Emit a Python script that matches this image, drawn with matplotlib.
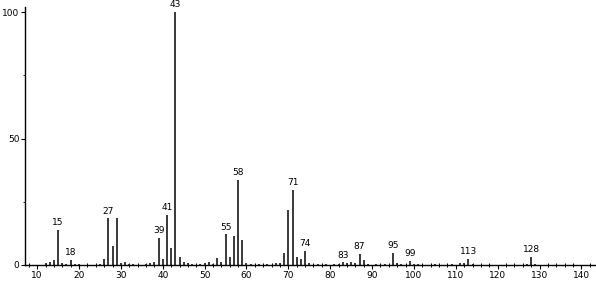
import matplotlib
matplotlib.use('Agg')
import matplotlib.pyplot as plt
from matplotlib.ticker import MultipleLocator

# m/z values and relative abundances
mz = [12, 13, 14, 15, 16, 17, 18, 19, 20, 25, 26, 27, 28, 29, 30, 31, 32, 33,
      36, 37, 38, 39, 40, 41, 42, 43, 44, 45, 46, 47, 49, 50, 51, 52, 53, 54,
      55, 56, 57, 58, 59, 60, 61, 63, 65, 67, 68, 69, 70, 71, 72, 73, 74, 75,
      77, 79, 81, 82, 83, 84, 85, 86, 87, 88, 89, 91, 93, 95, 96, 97, 99, 100,
      101, 105, 109, 111, 112, 113, 114, 127, 128, 129]
abundance = [0.6, 1.0, 2.0, 14.0, 0.8, 0.5, 2.0, 0.4, 0.4, 0.4, 2.3, 18.4, 7.5,
             18.4, 0.8, 1.0, 0.5, 0.3, 0.4, 0.6, 1.0, 10.8, 2.3, 19.8, 6.8,
             100.0, 3.2, 1.3, 0.6, 0.5, 0.4, 0.6, 1.3, 0.5, 2.9, 1.3, 12.1,
             3.3, 11.5, 33.6, 9.9, 0.8, 0.5, 0.4, 0.4, 0.6, 0.6, 4.9, 21.7,
             29.6, 3.3, 2.2, 5.5, 0.8, 0.4, 0.4, 0.5, 0.4, 1.0, 0.6, 1.3, 0.6,
             4.3, 2.0, 0.4, 0.4, 0.5, 4.9, 0.8, 0.5, 1.7, 0.3, 0.4, 0.3, 0.5,
             0.7, 0.6, 2.4, 0.4, 0.5, 3.3, 0.4]
labelled = [15, 18, 27, 39, 41, 43, 55, 58, 71, 74, 83, 87, 95, 99, 113, 128]

fig = plt.figure(figsize=(5.96, 2.81), dpi=100)
ax = fig.add_axes([0.042, 0.057, 0.956, 0.918])

ax.vlines(mz, 0, abundance, colors='#2a2a2a', linewidth=1.3)

for m in labelled:
    h = abundance[mz.index(m)]
    ax.annotate(str(m), (m, h), xytext=(0, 2), textcoords='offset points',
                ha='center', va='bottom', fontsize=6.5, annotation_clip=False)

ax.set_xlim(7.1, 143.2)
ax.set_ylim(0, 102)
ax.xaxis.set_major_locator(MultipleLocator(10))
ax.xaxis.set_minor_locator(MultipleLocator(2))
ax.set_yticks([0, 50, 100])
ax.yaxis.set_minor_locator(MultipleLocator(25))
ax.set_xticks(range(10, 141, 10))

ax.tick_params(axis='both', which='major', labelsize=6.5, length=3, width=0.8,
               pad=1)
ax.tick_params(axis='x', which='minor', direction='inout', length=3, width=0.7)
ax.tick_params(axis='y', which='minor', length=1.5, width=0.6)

for side in ['top', 'right']:
    ax.spines[side].set_visible(False)
ax.spines['left'].set_linewidth(1.0)
ax.spines['bottom'].set_linewidth(1.0)

fig.savefig('out.png', dpi=100)
plt.close(fig)
